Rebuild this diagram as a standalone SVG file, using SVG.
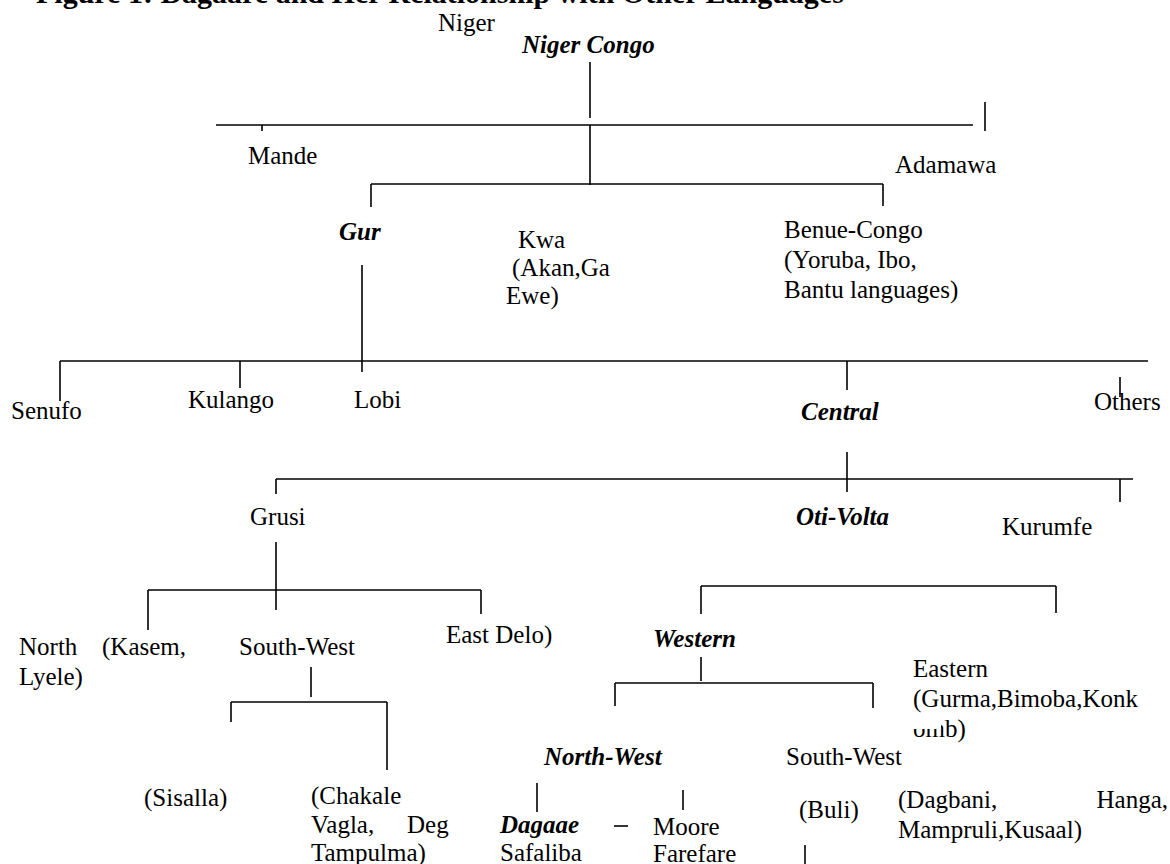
<svg xmlns="http://www.w3.org/2000/svg" width="1170" height="864" viewBox="0 0 1170 864">
<style>
text{font-family:"Liberation Serif","Times New Roman",serif;font-size:25px;fill:#000}
.bi{font-weight:bold;font-style:italic}
.title{font-weight:bold;font-size:30px}
#connectors line{stroke:#000;stroke-width:1.6}
</style>
<rect width="1170" height="864" fill="#fff"/>
<text class="title" x="36" y="3">Figure 1: Dagaare and Her Relationship with Other Languages</text>
<g id="connectors">
<line x1="590" y1="62" x2="590" y2="118"/>
<line x1="216" y1="125" x2="973" y2="125"/>
<line x1="262" y1="125" x2="262" y2="131"/>
<line x1="985" y1="102" x2="985" y2="131"/>
<line x1="590" y1="125" x2="590" y2="185"/>
<line x1="371" y1="184" x2="883" y2="184"/>
<line x1="371" y1="184" x2="371" y2="207"/>
<line x1="883" y1="184" x2="883" y2="206"/>
<line x1="362" y1="265" x2="362" y2="372"/>
<line x1="60" y1="361" x2="1148" y2="361"/>
<line x1="60" y1="361" x2="60" y2="401"/>
<line x1="240" y1="361" x2="240" y2="388"/>
<line x1="847" y1="361" x2="847" y2="390"/>
<line x1="1120" y1="377" x2="1120" y2="397"/>
<line x1="847" y1="452" x2="847" y2="492"/>
<line x1="276" y1="479" x2="1133" y2="479"/>
<line x1="276" y1="479" x2="276" y2="494"/>
<line x1="1120" y1="479" x2="1120" y2="502"/>
<line x1="276" y1="542" x2="276" y2="610"/>
<line x1="148" y1="590" x2="481" y2="590"/>
<line x1="148" y1="590" x2="148" y2="630"/>
<line x1="481" y1="590" x2="481" y2="614"/>
<line x1="311" y1="667" x2="311" y2="697"/>
<line x1="231" y1="702" x2="387" y2="702"/>
<line x1="231" y1="702" x2="231" y2="722"/>
<line x1="387" y1="702" x2="387" y2="770"/>
<line x1="701" y1="586" x2="1056" y2="586"/>
<line x1="701" y1="586" x2="701" y2="614"/>
<line x1="1056" y1="586" x2="1056" y2="613"/>
<line x1="701" y1="657" x2="701" y2="681"/>
<line x1="615" y1="683" x2="873" y2="683"/>
<line x1="615" y1="683" x2="615" y2="706"/>
<line x1="873" y1="683" x2="873" y2="708"/>
<line x1="537" y1="783" x2="537" y2="812"/>
<line x1="614" y1="826" x2="628" y2="826"/>
<line x1="683" y1="790" x2="683" y2="810"/>
<line x1="805" y1="845" x2="805" y2="864"/>
</g>
<g id="n-niger"><text x="438" y="31">Niger</text></g>
<g id="n-nigercongo"><text class="bi" x="522" y="53">Niger Congo</text></g>
<g id="n-mande"><text x="248" y="164">Mande</text></g>
<g id="n-adamawa"><text x="895" y="173">Adamawa</text></g>
<g id="n-gur"><text class="bi" x="339" y="240">Gur</text></g>
<g id="n-kwa"><text x="518" y="248">Kwa</text><text x="512" y="276">(Akan,Ga</text><text x="506" y="304">Ewe)</text></g>
<g id="n-benue"><text x="784" y="238">Benue-Congo</text><text x="784" y="268">(Yoruba, Ibo,</text><text x="784" y="298">Bantu languages)</text></g>
<g id="n-senufo"><text x="11" y="419">Senufo</text></g>
<g id="n-kulango"><text x="188" y="408">Kulango</text></g>
<g id="n-lobi"><text x="354" y="408">Lobi</text></g>
<g id="n-central"><text class="bi" x="801" y="420">Central</text></g>
<g id="n-others"><text x="1094" y="410">Others</text></g>
<g id="n-grusi"><text x="250" y="525">Grusi</text></g>
<g id="n-otivolta"><text class="bi" x="796" y="525">Oti-Volta</text></g>
<g id="n-kurumfe"><text x="1002" y="535">Kurumfe</text></g>
<g id="n-north"><text x="19" y="655">North</text><text x="102" y="655">(Kasem,</text><text x="19" y="685">Lyele)</text></g>
<g id="n-southwest1"><text x="239" y="655">South-West</text></g>
<g id="n-eastdelo"><text x="446" y="643">East Delo)</text></g>
<g id="n-sisalla"><text x="144" y="806">(Sisalla)</text></g>
<g id="n-chakale"><text x="311" y="804">(Chakale</text><text x="311" y="833">Vagla,</text><text x="407" y="833">Deg</text><text x="311" y="861">Tampulma)</text></g>
<g id="n-western"><text class="bi" x="653" y="647">Western</text></g>
<g id="n-eastern"><text x="913" y="677">Eastern</text><text x="913" y="707">(Gurma,Bimoba,Konk</text><text x="913" y="737">omb)</text><rect x="911" y="714" width="30" height="15" fill="#fff"/></g>
<g id="n-northwest"><text class="bi" x="544" y="765">North-West</text></g>
<g id="n-southwest2"><text x="786" y="765">South-West</text></g>
<g id="n-dagaae"><text class="bi" x="500" y="833">Dagaae</text><text x="500" y="861">Safaliba</text></g>
<g id="n-moore"><text x="653" y="835">Moore</text><text x="653" y="862">Farefare</text></g>
<g id="n-buli"><text x="799" y="818">(Buli)</text></g>
<g id="n-dagbani"><text x="898" y="808">(Dagbani,</text><text x="1168" y="808" text-anchor="end">Hanga,</text><text x="898" y="838">Mampruli,Kusaal)</text></g>
</svg>
